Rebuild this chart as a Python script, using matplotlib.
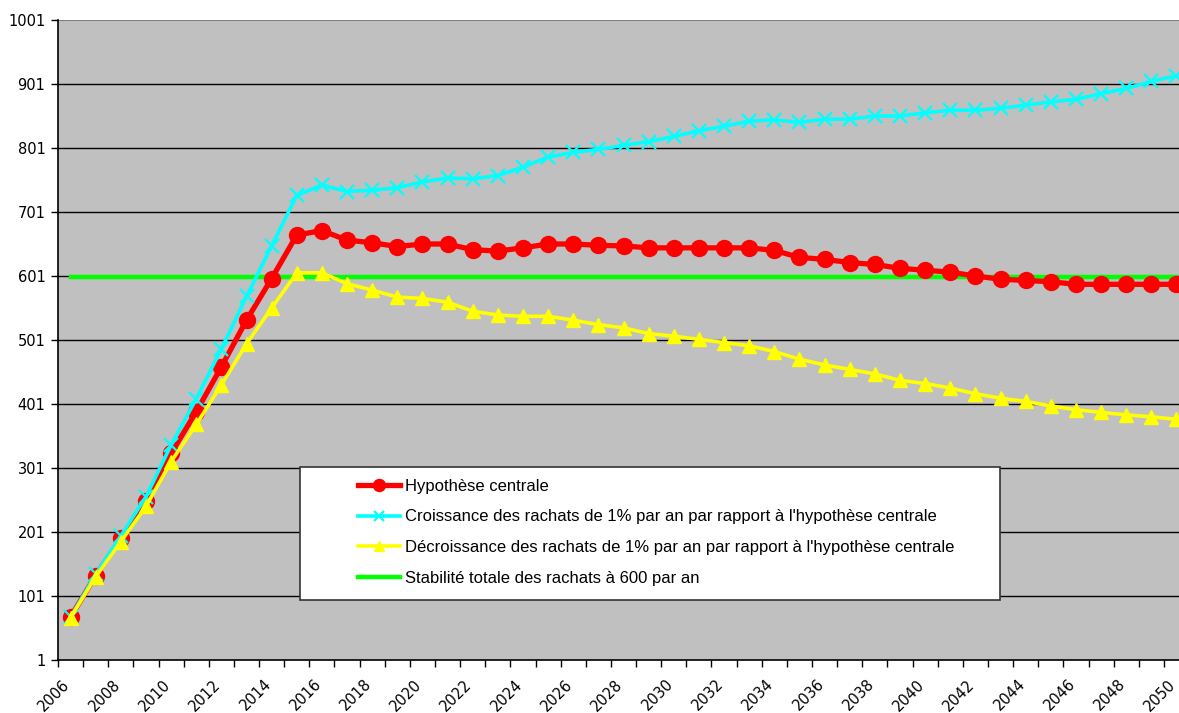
import numpy as np
import matplotlib
matplotlib.use("Agg")
import matplotlib.pyplot as plt
import matplotlib.transforms as mtransforms
from matplotlib.patches import Rectangle

# --- series (one value per year, 2006 -> 2050) ---
annees = list(range(2006, 2051))

hypothese_centrale = [68, 133, 191, 250, 324, 389, 459, 532, 597, 665,
                      672, 657, 653, 647, 651, 651, 642, 640, 645, 651,
                      651, 649, 648, 645, 645, 645, 645, 645, 641, 630,
                      627, 622, 619, 613, 610, 607, 601, 596, 594, 592,
                      588, 588, 588, 588, 588]

croissance = [68, 135, 195, 256, 337, 409, 487, 569, 648, 727,
              743, 733, 735, 739, 748, 754, 753, 758, 771, 787,
              794, 799, 805, 811, 819, 828, 835, 843, 845, 841,
              846, 846, 851, 851, 856, 860, 860, 863, 868, 873,
              877, 886, 894, 905, 914]

decroissance = [67, 131, 186, 241, 311, 369, 431, 495, 551, 606,
                606, 589, 579, 568, 566, 560, 546, 540, 538, 538,
                532, 525, 520, 511, 507, 502, 497, 492, 483, 471,
                462, 455, 448, 438, 433, 426, 417, 410, 405, 398,
                392, 388, 384, 381, 377]

stabilite = [600] * len(annees)

labels = [
    "Hypothèse centrale",
    "Croissance des rachats de 1% par an par rapport à l'hypothèse centrale",
    "Décroissance des rachats de 1% par an par rapport à l'hypothèse centrale",
    "Stabilité totale des rachats à 600 par an",
]

y_ticks = list(range(1, 1002, 100))

# categories are centred in their yearly slot
x = np.array(annees) + 0.5

fig = plt.figure(figsize=(11.79, 7.13), dpi=100)
ax = fig.add_axes([58 / 1179, 53 / 713, 1121 / 1179, 640 / 713])
ax.set_facecolor("#c0c0c0")

l_stab, = ax.plot(x, stabilite, color="#00ff00", lw=3.2, zorder=2)
l_cent, = ax.plot(x, hypothese_centrale, color="#ff0000", lw=3.8, marker="o",
                  markersize=11.5, zorder=3)
l_crois, = ax.plot(x, croissance, color="#00ffff", lw=2.6, marker="x",
                   markersize=10, mew=1.6, zorder=4)
l_decr, = ax.plot(x, decroissance, color="#ffff00", lw=2.6, marker="^",
                  markersize=10.5, zorder=5)

ax.set_xlim(2006, 2050.6)
ax.set_ylim(1, 1001)

# horizontal grid
for v in y_ticks[1:-1]:
    ax.axhline(v, color="black", lw=1.0, zorder=1)
ax.axhline(1001, color="#808080", lw=1.5, zorder=1)

for s in ["top", "right"]:
    ax.spines[s].set_visible(False)
ax.spines["left"].set_linewidth(1.2)
ax.spines["bottom"].set_linewidth(1.2)

ax.set_yticks(y_ticks)
ax.set_yticklabels([str(v) for v in y_ticks], fontsize=10.5, family="DejaVu Sans")
ax.tick_params(axis="y", length=5, width=1, pad=4)

ax.set_xticks(annees)
ax.set_xticklabels([str(a) if a % 2 == 0 else "" for a in annees],
                   rotation=45, ha="right", rotation_mode="anchor",
                   fontsize=10.5, family="DejaVu Sans")
ax.tick_params(axis="x", length=5, width=1, pad=7)
shift = mtransforms.ScaledTranslation(3 / 72, 0, fig.dpi_scale_trans)
for lab in ax.get_xticklabels():
    lab.set_transform(lab.get_transform() + shift)

# legend box
ax.add_patch(Rectangle((242 / 1121, 60 / 640), 700 / 1121, 133 / 640,
                       transform=ax.transAxes, facecolor="white",
                       edgecolor="#333333", lw=1.2, zorder=6))
leg = ax.legend([l_cent, l_crois, l_decr, l_stab], labels,
                loc="upper left", bbox_to_anchor=(300 / 1121, 181 / 640),
                borderaxespad=0, borderpad=0, frameon=False,
                handlelength=2.5, handletextpad=0.3, labelspacing=0.93,
                markerscale=0.75,
                prop={"family": "Liberation Sans", "size": 12})
leg.set_zorder(7)

fig.savefig("out.png", dpi=100)
